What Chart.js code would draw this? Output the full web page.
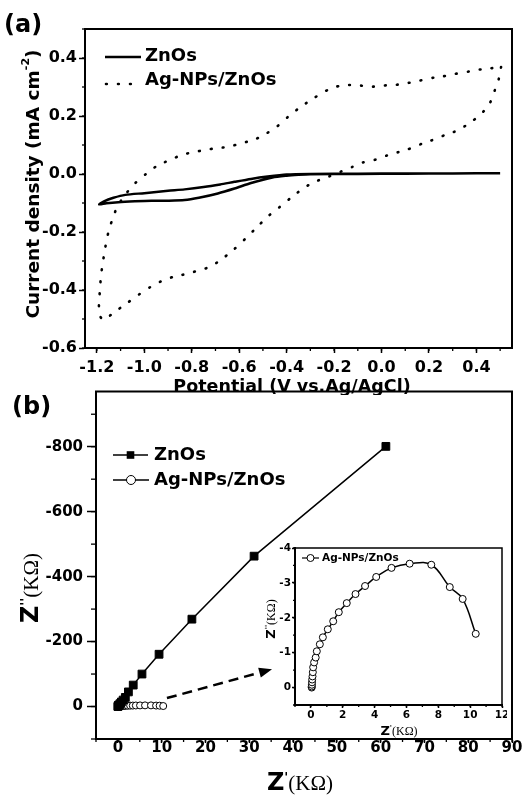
<!DOCTYPE html>
<html>
<head>
<meta charset="utf-8">
<title>CV and EIS</title>
<script src="https://cdn.jsdelivr.net/npm/chart.js@4.4.1/dist/chart.umd.min.js"></script>
<style>
  body { margin: 0; background: #fff; }
  #fig { position: relative; width: 524px; height: 795px; overflow: hidden; background: #fff; }
  #fig canvas { position: absolute; }
  .panel { position: absolute; font: bold 24px "DejaVu Sans"; color: #000; z-index: 5; }
</style>
</head>
<body>
<div id="fig">
  <canvas id="cv" width="524" height="395" style="left:0;top:0"></canvas>
  <canvas id="eis" width="524" height="410" style="left:0;top:385px"></canvas>
  <canvas id="inset" width="252" height="205" style="left:255px;top:535px"></canvas>
  <div class="panel" style="left:4px;top:10px">(a)</div>
  <div class="panel" style="left:12px;top:392px">(b)</div>
</div>
<script>
const FONT = '"DejaVu Sans"';
const SERIF = '"Liberation Serif"';

// (a) cyclic voltammograms, potential in V and current density in mA cm-2
const cvZnoE = [0.50, 0.30, 0.10, -0.10, -0.30, -0.35, -0.40, -0.46, -0.55, -0.62, -0.69, -0.77, -0.83, -0.90, -0.97, -1.04, -1.11, -1.16, -1.19,
                -1.17, -1.13, -1.08, -1.00, -0.90, -0.83, -0.75, -0.68, -0.62, -0.55, -0.48, -0.40, -0.30, -0.10, 0.10, 0.30, 0.50];
const cvZnoJ = [0.003, 0.002, 0.001, 0.000, -0.001, -0.003, -0.006, -0.012, -0.031, -0.050, -0.067, -0.082, -0.090, -0.092, -0.092, -0.094, -0.097, -0.101, -0.105,
                -0.094, -0.082, -0.072, -0.066, -0.058, -0.053, -0.045, -0.036, -0.027, -0.017, -0.009, -0.002, 0.000, 0.001, 0.002, 0.002, 0.003];

const cvAgE = [0.504, 0.495, 0.478, 0.457, 0.420, 0.370, 0.320, 0.275, 0.225, 0.175, 0.128, 0.074, 0.027, -0.023, -0.078, -0.124, -0.175, -0.226, -0.272, -0.322,
               -0.379, -0.428, -0.477, -0.526, -0.575, -0.625, -0.674, -0.723, -0.772, -0.824, -0.874, -0.924, -0.973, -1.025, -1.074, -1.124, -1.173, -1.191, -1.190, -1.187,
               -1.183, -1.177, -1.169, -1.160, -1.149, -1.133, -1.114, -1.081, -1.039, -0.990, -0.941, -0.892, -0.842, -0.793, -0.744, -0.695, -0.643, -0.592, -0.540, -0.491,
               -0.442, -0.393, -0.340, -0.290, -0.241, -0.192, -0.140, -0.091, -0.041, 0.008, 0.057, 0.106, 0.155, 0.204, 0.254, 0.303, 0.352, 0.404, 0.455, 0.504];
const cvAgJ = [0.369, 0.330, 0.290, 0.245, 0.207, 0.175, 0.150, 0.137, 0.120, 0.106, 0.090, 0.076, 0.065, 0.050, 0.040, 0.024, 0.007, -0.010, -0.024, -0.045,
               -0.080, -0.113, -0.145, -0.184, -0.224, -0.262, -0.294, -0.320, -0.333, -0.345, -0.354, -0.368, -0.389, -0.417, -0.446, -0.475, -0.503, -0.480, -0.438, -0.398,
               -0.356, -0.316, -0.276, -0.233, -0.193, -0.153, -0.113, -0.072, -0.032, 0.002, 0.031, 0.048, 0.066, 0.075, 0.083, 0.089, 0.094, 0.106, 0.117, 0.137,
               0.163, 0.198, 0.232, 0.259, 0.284, 0.301, 0.307, 0.305, 0.301, 0.305, 0.307, 0.313, 0.321, 0.330, 0.336, 0.344, 0.351, 0.359, 0.364, 0.369];

const cvPotentialTicks = [-1.2, -1.0, -0.8, -0.6, -0.4, -0.2, 0.0, 0.2, 0.4];
const cvCurrentTicks = [-0.6, -0.4, -0.2, 0.0, 0.2, 0.4];

// (b) Nyquist plots, Z' and Z'' in kOhm
const eisZnoRe = [0, 0.05, 0.1, 0.2, 0.5, 0.8, 1.2, 1.7, 2.4, 3.5, 5.5, 9.4, 16.9, 31.1, 61.2];
const eisZnoIm = [0, -1, -3, -5, -9, -14, -20, -28, -45, -66, -100, -161, -269, -463, -801];

const eisAgRe = [0.05, 0.05, 0.06, 0.07, 0.08, 0.10, 0.12, 0.14, 0.20, 0.30, 0.37, 0.56, 0.75, 1.06, 1.40, 1.75, 2.25, 2.80, 3.40, 4.10, 5.06, 6.20, 7.56, 8.72, 9.53, 10.35];
const eisAgIm = [0, -0.03, -0.08, -0.15, -0.23, -0.32, -0.44, -0.58, -0.72, -0.86, -1.04, -1.24, -1.44, -1.67, -1.90, -2.16, -2.42, -2.68, -2.91, -3.17, -3.43, -3.55, -3.52, -2.88, -2.54, -1.54];

const eisReTicks = [0, 10, 20, 30, 40, 50, 60, 70, 80, 90];
const eisImTicks = [-800, -600, -400, -200, 0];
const insetReTicks = [0, 2, 4, 6, 8, 10, 12];
const insetImTicks = [-4, -3, -2, -1, 0];

// dashed arrow pointing at the inset, in (Z', Z'') units
const arrowTail = [11.2, -26];
const arrowHead = [35.2, -115];

function pairs(xs, ys) {
    return xs.map((x, i) => ({ x: x, y: ys[i] }));
}

function oneDecimal(v) {
    return (Math.abs(v) < 1e-9 ? 0 : v).toFixed(1);
}

function axis(o) {
    return {
        type: 'linear',
        min: o.min,
        max: o.max,
        reverse: !!o.reverse,
        border: { display: true, color: '#000', width: 2 },
        grid: { display: true, drawOnChartArea: false, drawTicks: true, tickLength: o.tick, tickColor: '#000', tickWidth: 1.5 },
        ticks: {
            autoSkip: false,
            maxRotation: 0,
            color: '#000',
            padding: o.pad,
            font: { family: FONT, weight: 'bold', size: o.size, lineHeight: o.lh || 1.2 },
            callback: o.fmt || (v => String(v))
        },
        afterBuildTicks(s) {
            s.ticks = o.values.map(v => ({ value: v }));
        },
        afterFit(s) {
            if (o.width) s.width = o.width;
            if (o.height) s.height = o.height;
            s.paddingTop = s.paddingBottom = s.paddingLeft = s.paddingRight = 0;
        }
    };
}

// box round the plot + short minor ticks
const framePlugin = {
    id: 'frame',
    afterDraw(chart, args, o) {
        const { ctx, chartArea: a, scales: { x, y } } = chart;
        ctx.save();
        ctx.strokeStyle = '#000';
        ctx.lineWidth = 1.3;
        for (let i = Math.ceil(x.min / o.minorX - 1e-6); i * o.minorX <= x.max + 1e-9; i++) {
            const px = x.getPixelForValue(i * o.minorX);
            ctx.beginPath(); ctx.moveTo(px, a.bottom); ctx.lineTo(px, a.bottom + o.lenX); ctx.stroke();
        }
        for (let i = Math.ceil(y.min / o.minorY - 1e-6); i * o.minorY <= y.max + 1e-9; i++) {
            const py = y.getPixelForValue(i * o.minorY);
            ctx.beginPath(); ctx.moveTo(a.left, py); ctx.lineTo(a.left - o.lenY, py); ctx.stroke();
        }
        ctx.lineWidth = o.width;
        ctx.strokeRect(a.left, a.top, a.right - a.left, a.bottom - a.top);
        ctx.restore();
    }
};

// hand placed legend entries
const keyPlugin = {
    id: 'key',
    afterDraw(chart, args, o) {
        const ctx = chart.ctx;
        (o.items || []).forEach(it => {
            ctx.save();
            ctx.strokeStyle = '#000';
            ctx.fillStyle = '#000';
            ctx.lineWidth = it.lw;
            ctx.lineCap = it.cap || 'butt';
            ctx.setLineDash(it.dash || []);
            ctx.beginPath(); ctx.moveTo(it.x0, it.ly); ctx.lineTo(it.x1, it.ly); ctx.stroke();
            ctx.setLineDash([]);
            const cx = (it.x0 + it.x1) / 2;
            if (it.marker === 'rect') {
                ctx.fillRect(cx - it.r, it.ly - it.r, 2 * it.r, 2 * it.r);
            } else if (it.marker === 'circle') {
                ctx.lineWidth = 1;
                ctx.beginPath(); ctx.arc(cx, it.ly, it.r, 0, Math.PI * 2);
                ctx.fillStyle = '#fff'; ctx.fill(); ctx.stroke();
                ctx.fillStyle = '#000';
            }
            ctx.font = it.font;
            ctx.textBaseline = 'middle';
            ctx.fillText(it.text, it.tx, it.ty);
            ctx.restore();
        });
    }
};

// axis titles made of several runs (superscripts, mixed fonts)
const textPlugin = {
    id: 'texts',
    afterDraw(chart, args, o) {
        const ctx = chart.ctx;
        (o.items || []).forEach(it => {
            ctx.save();
            ctx.translate(it.x, it.y);
            if (it.rot) ctx.rotate(it.rot);
            ctx.fillStyle = '#000';
            ctx.textBaseline = 'alphabetic';
            let total = 0;
            it.parts.forEach(p => { ctx.font = p.font; p.w = ctx.measureText(p.t).width; total += p.w; });
            let cx = -total / 2;
            it.parts.forEach(p => { ctx.font = p.font; ctx.fillText(p.t, cx, p.dy || 0); cx += p.w; });
            ctx.restore();
        });
    }
};

const arrowPlugin = {
    id: 'arrow',
    afterDatasetsDraw(chart, args, o) {
        if (!o.from) return;
        const { ctx, scales: { x, y } } = chart;
        const x0 = x.getPixelForValue(o.from[0]), y0 = y.getPixelForValue(o.from[1]);
        const x1 = x.getPixelForValue(o.to[0]), y1 = y.getPixelForValue(o.to[1]);
        const ang = Math.atan2(y1 - y0, x1 - x0), head = 13, half = 5;
        const bx = x1 - head * Math.cos(ang), by = y1 - head * Math.sin(ang);
        ctx.save();
        ctx.strokeStyle = '#000';
        ctx.fillStyle = '#000';
        ctx.lineWidth = 2.5;
        ctx.setLineDash([10, 6]);
        ctx.beginPath(); ctx.moveTo(x0, y0); ctx.lineTo(bx, by); ctx.stroke();
        ctx.setLineDash([]);
        ctx.beginPath();
        ctx.moveTo(x1, y1);
        ctx.lineTo(bx + half * Math.sin(ang), by - half * Math.cos(ang));
        ctx.lineTo(bx - half * Math.sin(ang), by + half * Math.cos(ang));
        ctx.closePath();
        ctx.fill();
        ctx.restore();
    }
};

const plugins = [framePlugin, keyPlugin, textPlugin, arrowPlugin];

function zTitle(x, y, primes, zSize, kSize, rot) {
    return {
        x: x, y: y, rot: rot,
        parts: [
            { t: 'Z', font: `bold ${zSize}px ${FONT}` },
            { t: primes, font: `bold ${Math.round(zSize * 0.55)}px ${FONT}`, dy: -zSize * 0.38 },
            { t: '(KΩ)', font: `${kSize}px ${SERIF}` }
        ]
    };
}

new Chart(document.getElementById('cv'), {
    type: 'scatter',
    data: {
        datasets: [
            { label: 'ZnOs', data: pairs(cvZnoE, cvZnoJ), showLine: true, pointRadius: 0, borderColor: '#000', borderWidth: 2.5, tension: 0.25 },
            { label: 'Ag-NPs/ZnOs', data: pairs(cvAgE, cvAgJ), showLine: true, pointRadius: 0, borderColor: '#000', borderWidth: 2.6,
              borderDash: [0.8, 11.2], borderCapStyle: 'round', tension: 0.25 }
        ]
    },
    options: {
        responsive: false,
        animation: false,
        events: [],
        layout: { padding: { left: 0, right: 12, top: 29, bottom: 0 } },
        scales: {
            x: axis({ min: -1.25, max: 0.55, values: cvPotentialTicks, tick: 5, pad: 5, size: 16, height: 47, fmt: oneDecimal }),
            y: axis({ min: -0.6, max: 0.5, values: cvCurrentTicks, tick: 6, pad: 2, size: 16, width: 85, fmt: oneDecimal })
        },
        plugins: {
            legend: { display: false },
            tooltip: { enabled: false },
            frame: { minorX: 0.1, minorY: 0.1, lenX: 3, lenY: 3, width: 2 },
            key: { items: [
                { x0: 105, x1: 141, ly: 57, lw: 2.5, text: 'ZnOs', tx: 145, ty: 56, font: `bold 18px ${FONT}` },
                { x0: 106, x1: 132, ly: 84, lw: 2.6, dash: [0.8, 11.2], cap: 'round', text: 'Ag-NPs/ZnOs', tx: 145, ty: 80, font: `bold 18px ${FONT}` }
            ] },
            texts: { items: [
                { x: 292, y: 392, parts: [{ t: 'Potential (V vs.Ag/AgCl)', font: `bold 17.5px ${FONT}` }] },
                { x: 39, y: 184, rot: -Math.PI / 2, parts: [
                    { t: 'Current density (mA cm', font: `bold 18.5px ${FONT}` },
                    { t: '-2', font: `bold 11px ${FONT}`, dy: -10 },
                    { t: ')', font: `bold 18.5px ${FONT}` }
                ] }
            ] },
            arrow: {}
        }
    },
    plugins: plugins
});

new Chart(document.getElementById('eis'), {
    type: 'scatter',
    data: {
        datasets: [
            { label: 'ZnOs', data: pairs(eisZnoRe, eisZnoIm), showLine: true, borderColor: '#000', borderWidth: 1.5,
              pointStyle: 'rect', pointRadius: 5.5, pointBackgroundColor: '#000', pointBorderColor: '#000', pointBorderWidth: 1 },
            { label: 'Ag-NPs/ZnOs', data: pairs(eisAgRe, eisAgIm), showLine: true, borderColor: '#000', borderWidth: 1.5,
              pointStyle: 'circle', pointRadius: 3.5, pointBackgroundColor: '#fff', pointBorderColor: '#000', pointBorderWidth: 1 }
        ]
    },
    options: {
        responsive: false,
        animation: false,
        events: [],
        layout: { padding: { left: 0, right: 12, top: 6, bottom: 0 } },
        scales: {
            x: axis({ min: -5, max: 90, values: eisReTicks, tick: 4, pad: -2, size: 15, lh: 1, height: 56 }),
            y: axis({ min: -970, max: 100, values: eisImTicks, reverse: true, tick: 9, pad: 4, size: 15, width: 96 })
        },
        plugins: {
            legend: { display: false },
            tooltip: { enabled: false },
            frame: { minorX: 5, minorY: 100, lenX: 3, lenY: 5, width: 2 },
            key: { items: [
                { x0: 113, x1: 148, ly: 70, lw: 1.5, marker: 'rect', r: 3.8, text: 'ZnOs', tx: 154, ty: 70, font: `bold 18px ${FONT}` },
                { x0: 113, x1: 149, ly: 95, lw: 1.5, marker: 'circle', r: 4.5, text: 'Ag-NPs/ZnOs', tx: 154, ty: 95, font: `bold 18px ${FONT}` }
            ] },
            texts: { items: [
                zTitle(300, 405, "'", 24, 21),
                zTitle(38, 203, "''", 24, 21, -Math.PI / 2)
            ] },
            arrow: { from: arrowTail, to: arrowHead }
        }
    },
    plugins: plugins
});

new Chart(document.getElementById('inset'), {
    type: 'scatter',
    data: {
        datasets: [
            { label: 'Ag-NPs/ZnOs', data: pairs(eisAgRe, eisAgIm), showLine: true, borderColor: '#000', borderWidth: 1.5, tension: 0.4,
              pointStyle: 'circle', pointRadius: 3.5, pointBackgroundColor: '#fff', pointBorderColor: '#000', pointBorderWidth: 1 }
        ]
    },
    options: {
        responsive: false,
        animation: false,
        events: [],
        layout: { padding: { left: 0, right: 4, top: 13, bottom: 0 } },
        scales: {
            x: axis({ min: -1, max: 12, values: insetReTicks, tick: 3, pad: 1.4, size: 10.5, height: 35 }),
            y: axis({ min: -4, max: 0.5, values: insetImTicks, reverse: true, tick: 3, pad: 1, size: 10.5, width: 40 })
        },
        plugins: {
            legend: { display: false },
            tooltip: { enabled: false },
            frame: { minorX: 1, minorY: 0.5, lenX: 2, lenY: 2, width: 1.5 },
            key: { items: [
                { x0: 47, x1: 64, ly: 23, lw: 1.2, marker: 'circle', r: 3.5, text: 'Ag-NPs/ZnOs', tx: 67, ty: 23, font: `bold 10.5px ${FONT}` }
            ] },
            texts: { items: [
                zTitle(144, 200, "'", 13, 12),
                zTitle(20, 84, "''", 13, 12, -Math.PI / 2)
            ] },
            arrow: {}
        }
    },
    plugins: plugins
});
</script>
</body>
</html>
